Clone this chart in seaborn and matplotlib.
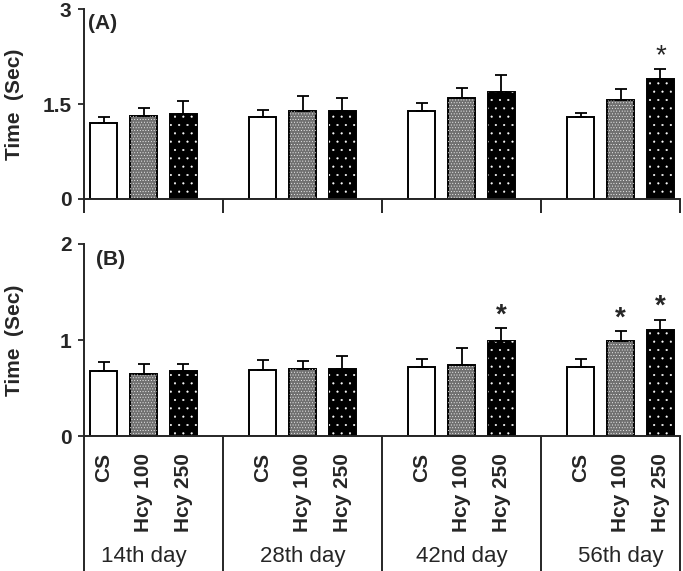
#!/usr/bin/env python3
"""Time (Sec) bar panels (A) and (B) by day and treatment."""

import matplotlib
matplotlib.use("Agg")
import matplotlib.pyplot as plt
import numpy as np
import pandas as pd
import seaborn as sns

days = ["14th day", "28th day", "42nd day", "56th day"]
groups = ["CS", "Hcy 100", "Hcy 250"]

# panel A (means, upper SEM, significance flags), ordered day by day
time_a = [1.20, 1.31, 1.35, 1.29, 1.39, 1.39, 1.39, 1.60, 1.69, 1.29, 1.57, 1.89]
sem_a = [0.10, 0.12, 0.19, 0.11, 0.23, 0.20, 0.13, 0.16, 0.27, 0.07, 0.17, 0.16]
sig_a = [0, 0, 0, 0, 0, 0, 0, 0, 0, 0, 0, 1]

# panel B
time_b = [0.68, 0.65, 0.68, 0.69, 0.70, 0.70, 0.72, 0.74, 0.99, 0.72, 0.99, 1.10]
sem_b = [0.095, 0.095, 0.07, 0.10, 0.08, 0.13, 0.08, 0.18, 0.13, 0.08, 0.10, 0.11]
sig_b = [0, 0, 0, 0, 0, 0, 0, 0, 1, 0, 1, 1]

yticks_a = [0, 1.5, 3]
yticks_b = [0, 1, 2]

sns.set_style("ticks")
plt.rcParams["font.family"] = ["Liberation Sans", "DejaVu Sans"]
plt.rcParams["hatch.linewidth"] = 0.3

PALETTE = {"CS": "white", "Hcy 100": "#707070", "Hcy 250": "black"}
HATCH = {"Hcy 100": "......", "Hcy 250": ".."}


def build_frame(times, sems, sigs):
    rows = []
    for d, day in enumerate(days):
        for g, grp in enumerate(groups):
            i = d * 3 + g
            rows.append({"day": day, "group": grp, "pos": d * 4 + g,
                         "time": times[i], "sem": sems[i], "sig": sigs[i]})
    return pd.DataFrame(rows)


def draw_panel(ax, df, ymax, yticks, star_weight):
    sns.barplot(data=df, x="pos", y="time", hue="group", palette=PALETTE,
                native_scale=True, dodge=False, width=0.68, errorbar=None,
                edgecolor="black", linewidth=1.4, legend=False, ax=ax)
    n_main = len(ax.patches)
    # white dot texture on top of the Hcy bars
    sub = df[df["group"] != "CS"]
    sns.barplot(data=sub, x="pos", y="time", native_scale=True, width=0.68,
                errorbar=None, color="white", fill=False, linewidth=0, ax=ax)
    pos_to_group = dict(zip(df["pos"], df["group"]))
    for p in ax.patches[n_main:]:
        cx = round(p.get_x() + p.get_width() / 2)
        p.set_facecolor("none")
        p.set_edgecolor("white")
        p.set_linewidth(0)
        p.set_hatch(HATCH.get(pos_to_group.get(cx, "Hcy 250"), ".."))

    ax.errorbar(df["pos"], df["time"], yerr=[np.zeros(len(df)), df["sem"]],
                fmt="none", ecolor="black", elinewidth=1.3, capsize=4, capthick=1.3)
    for _, r in df[df["sig"] == 1].iterrows():
        ax.annotate("*", (r["pos"], r["time"] + r["sem"]), xytext=(0, 0),
                    textcoords="offset points", ha="center", va="bottom",
                    fontsize=20, fontweight=star_weight)

    ax.set_xlim(-0.5, 14.5)
    ax.set_ylim(0, ymax)
    ax.set_yticks(yticks)
    ax.set_yticklabels([f"{t:g}" for t in yticks], fontsize=15, fontweight="bold")
    ax.set_ylabel("Time  (Sec)", fontsize=15, fontweight="bold")
    ax.yaxis.set_label_coords(-0.10, 0.5)
    ax.set_xlabel("")
    ax.set_xticks([-0.5, 3, 7, 11, 14.5])
    ax.set_xticklabels([])
    ax.tick_params(axis="y", length=4, width=1.3, pad=5)
    sns.despine(ax=ax)
    for s in ("left", "bottom"):
        ax.spines[s].set_linewidth(1.4)


fig = plt.figure(figsize=(6.83, 5.71), dpi=100)
ax_a = fig.add_axes([0.123, 0.6515, 0.873, 0.3327])
ax_b = fig.add_axes([0.123, 0.2364, 0.873, 0.3363])

df_a = build_frame(time_a, sem_a, sig_a)
df_b = build_frame(time_b, sem_b, sig_b)

draw_panel(ax_a, df_a, 3, yticks_a, "normal")
draw_panel(ax_b, df_b, 2, yticks_b, "bold")

ax_a.tick_params(axis="x", which="major", length=10, width=1.4)
ax_b.tick_params(axis="x", which="major", length=100, width=1.4)

ax_a.text(0.006, 0.925, "(A)", transform=ax_a.transAxes, ha="left", va="center",
          fontsize=15, fontweight="bold")
ax_b.text(0.02, 0.917, "(B)", transform=ax_b.transAxes, ha="left", va="center",
          fontsize=15, fontweight="bold")

# treatment names under each bar, day names under each group
ax_b.set_xticks(df_b["pos"], df_b["group"], minor=True, rotation=90,
                fontsize=15, fontweight="bold")
ax_b.tick_params(axis="x", which="minor", length=0, pad=12)
for d, day in enumerate(days):
    ax_b.text(d * 4 + 1, -0.63, day, transform=ax_b.get_xaxis_transform(),
              ha="center", va="center", fontsize=16)

fig.savefig("out.png", dpi=100)
